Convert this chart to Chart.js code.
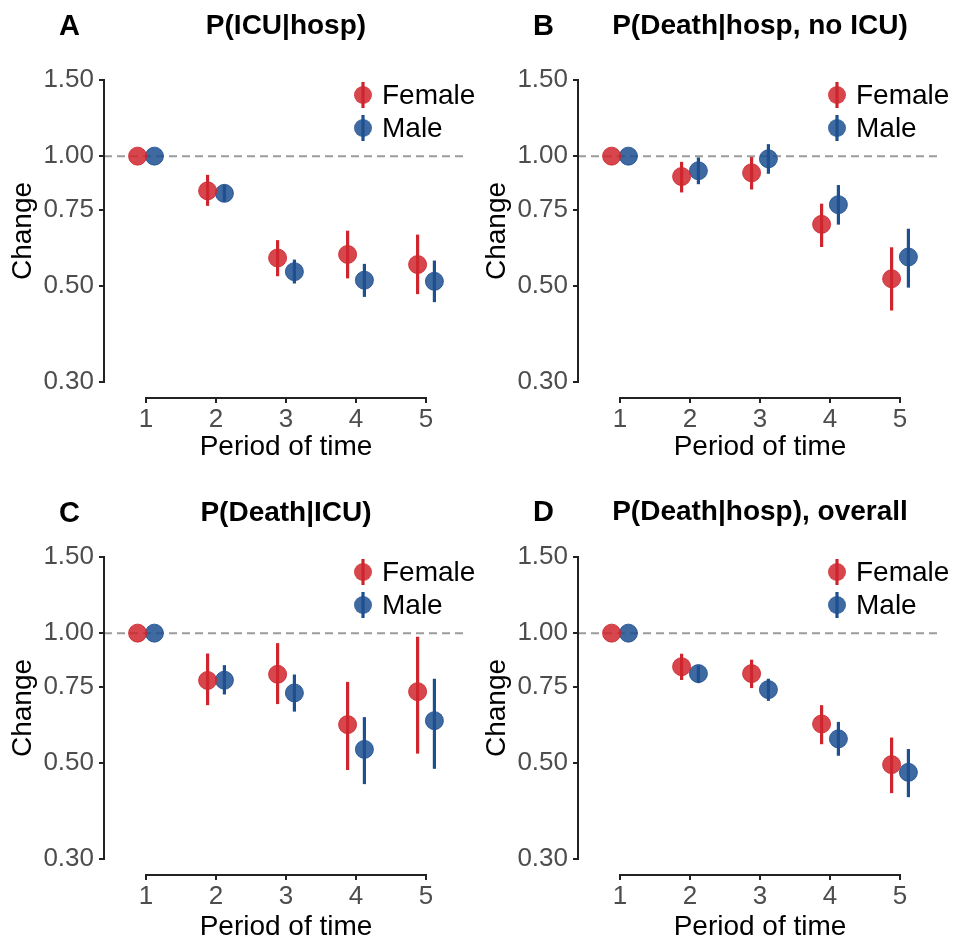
<!DOCTYPE html>
<html>
<head>
<meta charset="utf-8">
<script src="https://cdn.jsdelivr.net/npm/chart.js@4.4.0/dist/chart.umd.min.js"></script>
<style>
  body { margin: 0; background: #fff; font-family: "Liberation Sans", Arial, sans-serif; }
  #wrap { position: relative; width: 957px; height: 941px; overflow: hidden; }
  .panel { position: absolute; width: 478px; height: 470px; }
  .panel canvas { position: absolute; left: 0; top: 0; }
  .tag { position: absolute; font-weight: bold; font-size: 29px; line-height: 29px; color: #000; }
  .ttl { position: absolute; left: 104px; width: 364px; text-align: center; font-weight: bold; font-size: 28px; line-height: 28px; color: #000; white-space: nowrap; }
</style>
</head>
<body>
<div id="wrap"></div>
<script>
// données
const periods = [1, 2, 3, 4, 5];
const seriesNames = ['Female', 'Male'];
const yTicks = [0.30, 0.50, 0.75, 1.00, 1.50];
const refValue = 1.00;

// A : P(ICU|hosp)
const icuFemale   = [1.00, 0.831, 0.581, 0.592, 0.561];
const icuFemaleLo = [1.00, 0.767, 0.527, 0.521, 0.479];
const icuFemaleHi = [1.00, 0.905, 0.639, 0.672, 0.658];
const icuMale     = [1.00, 0.820, 0.540, 0.516, 0.513];
const icuMaleLo   = [1.00, 0.785, 0.507, 0.472, 0.459];
const icuMaleHi   = [1.00, 0.857, 0.576, 0.563, 0.573];

// B : P(Death|hosp, no ICU)
const noIcuFemale   = [1.00, 0.897, 0.915, 0.695, 0.520];
const noIcuFemaleLo = [1.00, 0.824, 0.837, 0.616, 0.439];
const noIcuFemaleHi = [1.00, 0.970, 0.995, 0.776, 0.615];
const noIcuMale     = [1.00, 0.925, 0.986, 0.772, 0.584];
const noIcuMaleLo   = [1.00, 0.861, 0.910, 0.694, 0.496];
const noIcuMaleHi   = [1.00, 0.993, 1.066, 0.857, 0.679];

// C : P(Death|ICU)
const deathIcuFemale   = [1.00, 0.777, 0.803, 0.614, 0.732];
const deathIcuFemaleLo = [1.00, 0.681, 0.685, 0.482, 0.526];
const deathIcuFemaleHi = [1.00, 0.897, 0.948, 0.771, 0.981];
const deathIcuMale     = [1.00, 0.778, 0.727, 0.538, 0.627];
const deathIcuMaleLo   = [1.00, 0.721, 0.658, 0.447, 0.485];
const deathIcuMaleHi   = [1.00, 0.843, 0.802, 0.639, 0.784];

// D : P(Death|hosp), overall
const overallFemale   = [1.00, 0.836, 0.806, 0.616, 0.496];
const overallFemaleLo = [1.00, 0.779, 0.746, 0.553, 0.426];
const overallFemaleHi = [1.00, 0.896, 0.868, 0.681, 0.573];
const overallMale     = [1.00, 0.806, 0.740, 0.569, 0.476];
const overallMaleLo   = [1.00, 0.766, 0.697, 0.520, 0.417];
const overallMaleHi   = [1.00, 0.841, 0.784, 0.623, 0.539];

const panels = [
  { tag: 'A', title: 'P(ICU|hosp)', left: 0, top: 0, titleY: 25, xTitlePad: 6,
    est: [icuFemale, icuMale], lo: [icuFemaleLo, icuMaleLo], hi: [icuFemaleHi, icuMaleHi] },
  { tag: 'B', title: 'P(Death|hosp, no ICU)', left: 474, top: 0, titleY: 25, xTitlePad: 6,
    est: [noIcuFemale, noIcuMale], lo: [noIcuFemaleLo, noIcuMaleLo], hi: [noIcuFemaleHi, noIcuMaleHi] },
  { tag: 'C', title: 'P(Death|ICU)', left: 0, top: 477, titleY: 35, xTitlePad: 3,
    est: [deathIcuFemale, deathIcuMale], lo: [deathIcuFemaleLo, deathIcuMaleLo], hi: [deathIcuFemaleHi, deathIcuMaleHi] },
  { tag: 'D', title: 'P(Death|hosp), overall', left: 474, top: 477, titleY: 34, xTitlePad: 3,
    est: [overallFemale, overallMale], lo: [overallFemaleLo, overallMaleLo], hi: [overallFemaleHi, overallMaleHi] }
];

const lineColors = ['#cf262d', '#1d4f91'];
const fillColors = ['rgba(207,38,45,0.85)', 'rgba(29,79,145,0.85)'];
const dodge = [-0.12, 0.12];

// étendue de l'axe y (log) avec 5 % de marge comme ggplot
const span = Math.log(1.5) - Math.log(0.3);
const yMin = 0.3 * Math.exp(-0.05 * span);
const yMax = 1.5 * Math.exp(0.05 * span);

Chart.defaults.font.family = '"Liberation Sans", Arial, sans-serif';
Chart.defaults.color = '#000';

// ligne pointillée, barres d'erreur, axes "coupés" et légende
const decorPlugin = {
  id: 'decor',
  beforeDatasetsDraw(chart) {
    const { ctx, chartArea, scales: { x, y } } = chart;
    ctx.save();
    ctx.strokeStyle = '#9c9c9c';
    ctx.lineWidth = 2;
    ctx.setLineDash([8, 5]);
    const yr = y.getPixelForValue(refValue);
    ctx.beginPath();
    ctx.moveTo(chartArea.left, yr);
    ctx.lineTo(chartArea.right, yr);
    ctx.stroke();
    ctx.setLineDash([]);
    chart.data.datasets.forEach((ds, i) => {
      ctx.strokeStyle = lineColors[i];
      ctx.lineWidth = 3.2;
      periods.forEach((p, k) => {
        const px = x.getPixelForValue(p + dodge[i]);
        ctx.beginPath();
        ctx.moveTo(px, y.getPixelForValue(ds.lo[k]));
        ctx.lineTo(px, y.getPixelForValue(ds.hi[k]));
        ctx.stroke();
      });
    });
    ctx.restore();
  },
  afterDraw(chart) {
    const { ctx, chartArea, scales: { x, y } } = chart;
    ctx.save();
    ctx.strokeStyle = '#222';
    ctx.lineWidth = 2;
    ctx.beginPath();
    ctx.moveTo(chartArea.left, y.getPixelForValue(yTicks[yTicks.length - 1]) - 1);
    ctx.lineTo(chartArea.left, y.getPixelForValue(yTicks[0]) + 1);
    ctx.moveTo(x.getPixelForValue(periods[0]) - 1, chartArea.bottom + 1);
    ctx.lineTo(x.getPixelForValue(periods[periods.length - 1]) + 1, chartArea.bottom + 1);
    ctx.stroke();

    // légende
    const gx = chartArea.right - 105;
    chart.data.datasets.forEach((ds, i) => {
      const gy = chartArea.top + 30 + i * 33;
      ctx.strokeStyle = lineColors[i];
      ctx.lineWidth = 3.2;
      ctx.beginPath();
      ctx.moveTo(gx, gy - 13);
      ctx.lineTo(gx, gy + 13);
      ctx.stroke();
      ctx.fillStyle = fillColors[i];
      ctx.beginPath();
      ctx.arc(gx, gy, 9, 0, Math.PI * 2);
      ctx.fill();
      ctx.fillStyle = '#000';
      ctx.font = '28px "Liberation Sans", Arial, sans-serif';
      ctx.textBaseline = 'middle';
      ctx.fillText(ds.label, gx + 19, gy + 1);
    });
    ctx.restore();
  }
};

const wrap = document.getElementById('wrap');

panels.forEach(p => {
  const box = document.createElement('div');
  box.className = 'panel';
  box.style.left = p.left + 'px';
  box.style.top = p.top + 'px';
  const canvas = document.createElement('canvas');
  canvas.width = 478;
  canvas.height = 470;
  box.appendChild(canvas);
  const tag = document.createElement('div');
  tag.className = 'tag';
  tag.textContent = p.tag;
  tag.style.left = '59px';
  tag.style.top = (p.titleY - 14) + 'px';
  box.appendChild(tag);
  const ttl = document.createElement('div');
  ttl.className = 'ttl';
  ttl.textContent = p.title;
  ttl.style.top = (p.titleY - 14) + 'px';
  box.appendChild(ttl);
  wrap.appendChild(box);

  const datasets = seriesNames.map((name, i) => ({
    label: name,
    data: periods.map((x, k) => ({ x: x + dodge[i], y: p.est[i][k] })),
    lo: p.lo[i],
    hi: p.hi[i],
    backgroundColor: fillColors[i],
    borderColor: fillColors[i],
    borderWidth: 1,
    pointRadius: 9,
    pointHoverRadius: 9,
    showLine: false
  }));

  new Chart(canvas.getContext('2d'), {
    type: 'scatter',
    data: { datasets },
    options: {
      responsive: false,
      animation: false,
      layout: { padding: { top: 65, right: 10, left: 0, bottom: 0 } },
      plugins: { legend: { display: false }, tooltip: { enabled: false } },
      scales: {
        x: {
          type: 'linear',
          min: 0.4,
          max: 5.6,
          afterBuildTicks: s => { s.ticks = periods.map(v => ({ value: v })); },
          afterFit: s => { s.height = 73; },
          ticks: { color: '#4d4d4d', font: { size: 26 }, padding: 1, autoSkip: false, maxRotation: 0,
                   callback: v => String(v) },
          grid: { display: true, drawOnChartArea: false, drawTicks: true, tickLength: 6, color: '#222', lineWidth: 2 },
          border: { display: false },
          title: { display: true, text: 'Period of time', color: '#000', font: { size: 28 },
                   padding: { top: 0, bottom: p.xTitlePad } }
        },
        y: {
          type: 'logarithmic',
          min: yMin,
          max: yMax,
          afterBuildTicks: s => { s.ticks = yTicks.map(v => ({ value: v })); },
          afterFit: s => { s.width = 104; },
          ticks: { color: '#4d4d4d', font: { size: 26 }, padding: 5, autoSkip: false,
                   callback: v => Number(v).toFixed(2) },
          grid: { display: true, drawOnChartArea: false, drawTicks: true, tickLength: 5, color: '#222', lineWidth: 2 },
          border: { display: false },
          title: { display: true, text: 'Change', color: '#000', font: { size: 28 }, padding: { top: 6, bottom: 0 } }
        }
      }
    },
    plugins: [decorPlugin]
  });
});
</script>
</body>
</html>
